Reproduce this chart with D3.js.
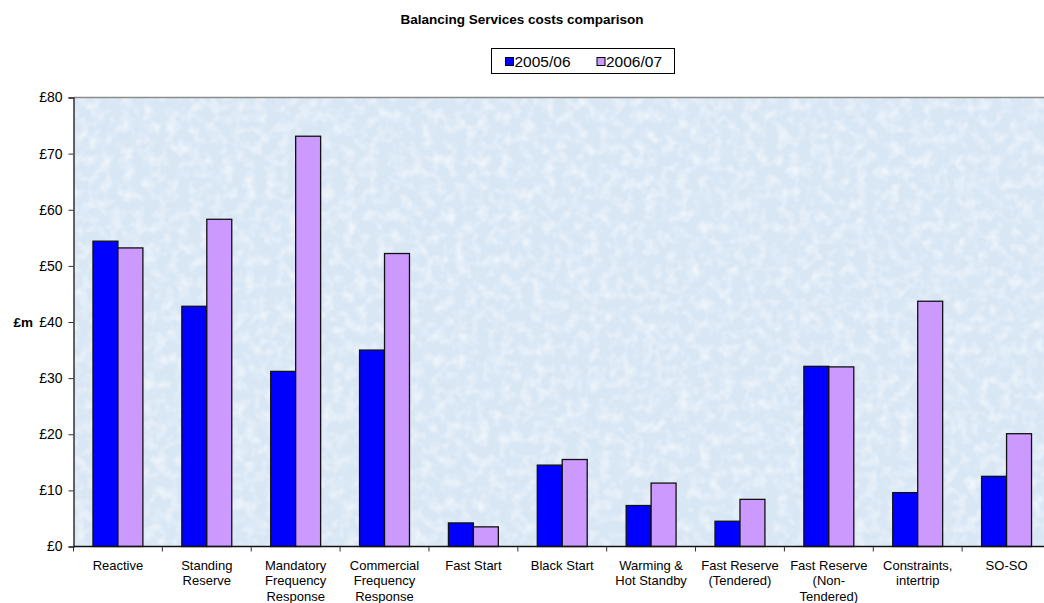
<!DOCTYPE html>
<html>
<head>
<meta charset="utf-8">
<script src="https://cdn.jsdelivr.net/npm/d3@7"></script>
<style>
  body { margin: 0; background: #fff; }
  svg { display: block; font-family: "Liberation Sans", Arial, sans-serif; }
</style>
</head>
<body>
<svg id="viz" width="1044" height="603"></svg>
<script>
var categories = [
  ['Reactive'],
  ['Standing', 'Reserve'],
  ['Mandatory', 'Frequency', 'Response'],
  ['Commercial', 'Frequency', 'Response'],
  ['Fast Start'],
  ['Black Start'],
  ['Warming &', 'Hot Standby'],
  ['Fast Reserve', '(Tendered)'],
  ['Fast Reserve', '(Non-', 'Tendered)'],
  ['Constraints,', 'intertrip'],
  ['SO-SO']
];
var series = ['2005/06', '2006/07'];
var values0506 = [54.4, 42.8, 31.2, 35.0, 4.2, 14.5, 7.3, 4.5, 32.1, 9.6, 12.5];
var values0607 = [53.2, 58.3, 73.1, 52.2, 3.5, 15.5, 11.3, 8.4, 32.0, 43.7, 20.1];
var yTicks = [0, 10, 20, 30, 40, 50, 60, 70, 80];
var colors = ['#0000ff', '#cc99ff'];

var svg = d3.select('#viz');
var plotLeft = 73.5, plotRight = 1051, plotTop = 97.5, plotBottom = 546.5;

var x0 = d3.scaleBand()
  .domain(d3.range(categories.length))
  .range([plotLeft, plotRight]);
var x1 = d3.scaleBand()
  .domain([0, 1])
  .range([0, x0.bandwidth()])
  .paddingInner(0)
  .paddingOuter(0.78);
var y = d3.scaleLinear().domain([0, 80]).range([plotBottom, plotTop]);

// textured background
var defs = svg.append('defs');
var f = defs.append('filter').attr('id', 'tex')
  .attr('x', 0).attr('y', 0).attr('width', 1).attr('height', 1);
f.append('feTurbulence').attr('type', 'fractalNoise')
  .attr('baseFrequency', 0.09).attr('numOctaves', 2).attr('seed', 4);
f.append('feColorMatrix').attr('type', 'matrix')
  .attr('values', '0 0 0 0 1  0 0 0 0 1  0 0 0 0 1  0 0 0 -2.2 1.25');

svg.append('rect')
  .attr('x', plotLeft).attr('y', plotTop)
  .attr('width', plotRight - plotLeft).attr('height', plotBottom - plotTop)
  .attr('fill', '#d9e7f5');
svg.append('rect')
  .attr('x', plotLeft).attr('y', plotTop)
  .attr('width', plotRight - plotLeft).attr('height', plotBottom - plotTop)
  .attr('filter', 'url(#tex)')
  .attr('opacity', 0.6);

svg.append('line')
  .attr('x1', plotLeft).attr('x2', plotRight)
  .attr('y1', plotTop).attr('y2', plotTop)
  .attr('stroke', '#8c8c8c').attr('stroke-width', 1.5);

// bars
var data = [values0506, values0607];
var groups = svg.append('g').selectAll('g')
  .data(categories)
  .join('g')
  .attr('transform', function(d, i) { return 'translate(' + x0(i) + ',0)'; });

groups.selectAll('rect')
  .data(function(d, i) { return [0, 1].map(function(s) { return { s: s, v: data[s][i] }; }); })
  .join('rect')
  .attr('x', function(d) { return x1(d.s); })
  .attr('width', x1.bandwidth())
  .attr('y', function(d) { return y(d.v); })
  .attr('height', function(d) { return y(0) - y(d.v); })
  .attr('fill', function(d) { return colors[d.s]; })
  .attr('stroke', '#111')
  .attr('stroke-width', 1.3);

// y axis
var yAxis = svg.append('g')
  .attr('transform', 'translate(' + plotLeft + ',0)')
  .call(d3.axisLeft(y).tickValues(yTicks).tickSize(5).tickPadding(6)
    .tickFormat(function(d) { return '£' + d; }));
yAxis.select('.domain').attr('stroke', '#333').attr('stroke-width', 1.5);
yAxis.selectAll('.tick line').attr('stroke', '#333');
yAxis.selectAll('text').attr('font-size', 14).attr('fill', '#000')
  .attr('font-family', '"Liberation Sans", Arial, sans-serif');

svg.append('text')
  .attr('x', 33).attr('y', y(40))
  .attr('dy', '0.35em')
  .attr('text-anchor', 'end')
  .attr('font-size', 13.5).attr('font-weight', 'bold')
  .text('£m');

// x axis
var xAxis = svg.append('g')
  .attr('transform', 'translate(0,' + plotBottom + ')');
xAxis.append('line')
  .attr('x1', plotLeft).attr('x2', plotRight)
  .attr('stroke', '#111').attr('stroke-width', 1.5);
xAxis.selectAll('line.tk')
  .data(d3.range(categories.length + 1))
  .join('line')
  .attr('class', 'tk')
  .attr('x1', function(i) { return plotLeft + i * x0.bandwidth(); })
  .attr('x2', function(i) { return plotLeft + i * x0.bandwidth(); })
  .attr('y1', 0).attr('y2', 5)
  .attr('stroke', '#333');

xAxis.selectAll('text')
  .data(categories)
  .join('text')
  .attr('x', function(d, i) { return x0(i) + x0.bandwidth() / 2; })
  .attr('y', 23)
  .attr('text-anchor', 'middle')
  .attr('font-size', 13)
  .each(function(d) {
    var t = d3.select(this);
    d.forEach(function(line, k) {
      t.append('tspan')
        .attr('x', t.attr('x'))
        .attr('dy', k === 0 ? 0 : 15.8)
        .text(line);
    });
  });

// title
svg.append('text')
  .attr('x', 522).attr('y', 24)
  .attr('text-anchor', 'middle')
  .attr('font-size', 13.5).attr('font-weight', 'bold')
  .text('Balancing Services costs comparison');

// legend
var lg = svg.append('g');
lg.append('rect')
  .attr('x', 491.5).attr('y', 48.5)
  .attr('width', 183).attr('height', 25)
  .attr('fill', '#fff').attr('stroke', '#000');
var items = lg.selectAll('g')
  .data(series)
  .join('g')
  .attr('transform', function(d, i) { return 'translate(' + (505.5 + i * 91.5) + ',57.5)'; });
items.append('rect')
  .attr('width', 8).attr('height', 8)
  .attr('fill', function(d, i) { return colors[i]; })
  .attr('stroke', '#000');
items.append('text')
  .attr('x', 9).attr('y', 9.5)
  .attr('font-size', 15.5)
  .text(function(d) { return d; });
</script>
</body>
</html>
